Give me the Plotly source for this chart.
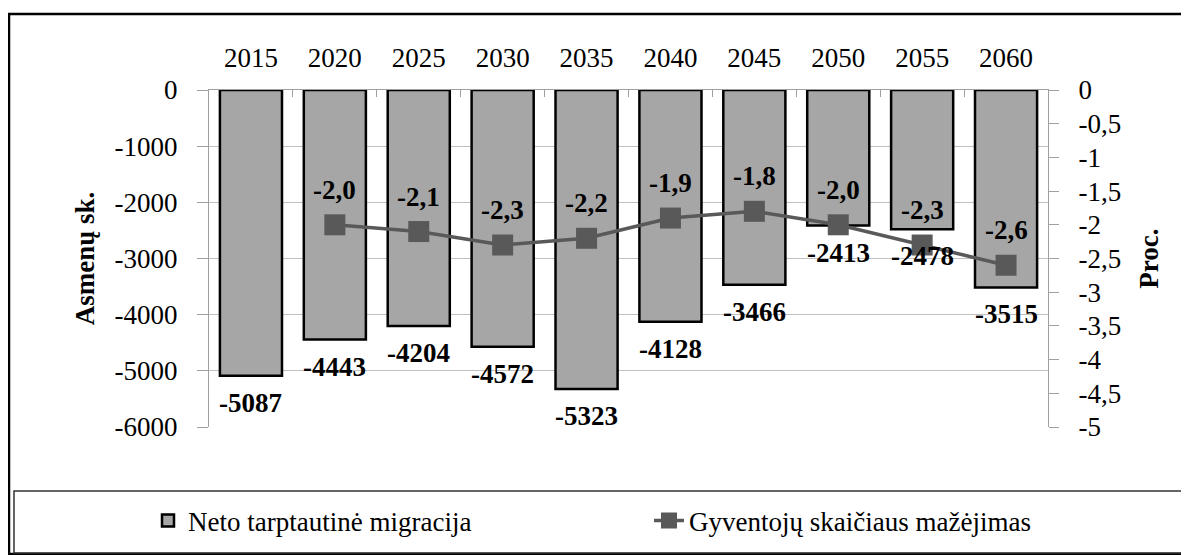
import plotly.graph_objects as go

years = ["2015", "2020", "2025", "2030", "2035", "2040", "2045", "2050", "2055", "2060"]
migration = [-5087, -4443, -4204, -4572, -5323, -4128, -3466, -2413, -2478, -3515]
decline = [None, -2.0, -2.1, -2.3, -2.2, -1.9, -1.8, -2.0, -2.3, -2.6]

left_ticks = [0, -1000, -2000, -3000, -4000, -5000, -6000]
left_tick_text = ["0", "-1000", "-2000", "-3000", "-4000", "-5000", "-6000"]
right_ticks = [0, -0.5, -1, -1.5, -2, -2.5, -3, -3.5, -4, -4.5, -5]
right_tick_text = ["0", "-0,5", "-1", "-1,5", "-2", "-2,5", "-3", "-3,5", "-4", "-4,5", "-5"]

bar_name = "Neto tarptautinė migracija"
line_name = "Gyventojų skaičiaus mažėjimas"
left_title = "Asmenų sk."
right_title = "Proc."

FONT = "'Liberation Serif', 'Times New Roman', Times, serif"
FS = 27
OFF = 8  # page body margin
W, H = 1189 - OFF, 555 - OFF
L, R, T, B = 209 - OFF, 1048 - OFF, 90 - OFF, 427 - OFF

fig = go.Figure()
fig.add_trace(go.Bar(
    x=years, y=migration, name=bar_name, width=0.74,
    marker=dict(color="#a6a6a6", line=dict(color="black", width=2.5)),
    yaxis="y",
))
fig.add_trace(go.Scatter(
    x=years, y=decline, name=line_name, mode="lines+markers", yaxis="y2",
    line=dict(color="#595959", width=3.5),
    marker=dict(symbol="square", size=21, color="#595959"),
))

annotations = []
for i, v in enumerate(migration):
    annotations.append(dict(x=i, y=v, xref="x", yref="y", text="<b>%d</b>" % v,
                            showarrow=False, yshift=-27,
                            font=dict(family=FONT, size=FS, color="black")))
for i, v in enumerate(decline):
    if v is None:
        continue
    annotations.append(dict(x=i, y=v, xref="x", yref="y2",
                            text="<b>%s</b>" % ("%.1f" % v).replace(".", ","),
                            showarrow=False, yshift=35,
                            font=dict(family=FONT, size=FS, color="black")))

def px_x(p):
    return (p - OFF - L) / (R - L)

def px_y(p):
    return (B - (p - OFF)) / (B - T)

shapes = [
    dict(type="rect", xref="paper", yref="paper",
         x0=px_x(9), x1=px_x(1200), y0=px_y(554), y1=px_y(14),
         line=dict(color="black", width=2.5), fillcolor="rgba(0,0,0,0)", layer="below"),
    dict(type="rect", xref="paper", yref="paper",
         x0=px_x(14), x1=px_x(1200), y0=px_y(553), y1=px_y(491),
         line=dict(color="#333333", width=1.5), fillcolor="rgba(0,0,0,0)", layer="below"),
]

axis_line = "#a0a0a0"
fig.update_layout(
    width=W, height=H,
    margin=dict(l=L, r=W - R, t=T, b=H - B, autoexpand=False),
    paper_bgcolor="white", plot_bgcolor="white",
    font=dict(family=FONT, size=FS, color="black"),
    xaxis=dict(side="top", type="category", range=[-0.5, len(years) - 0.5],
               showgrid=False, showline=True,
               linecolor=axis_line, linewidth=1, ticks="inside", tickson="boundaries",
               ticklen=7, tickcolor=axis_line, tickfont=dict(family=FONT, size=FS),
               tickangle=0, ticklabelstandoff=11, fixedrange=True),
    yaxis=dict(range=[-6000, 0], tickvals=left_ticks, ticktext=left_tick_text,
               showgrid=True, gridcolor="#c0c0c0", gridwidth=1, zeroline=False,
               showline=True, linecolor=axis_line, linewidth=1,
               ticks="outside", ticklen=11, tickcolor=axis_line,
               tickfont=dict(family=FONT, size=FS), ticklabelstandoff=14,
               title=dict(text="<b>%s</b>" % left_title, font=dict(family=FONT, size=FS), standoff=12)),
    yaxis2=dict(range=[-5, 0], tickvals=right_ticks, ticktext=right_tick_text,
                overlaying="y", side="right", showgrid=False, zeroline=False,
                showline=True, linecolor=axis_line, linewidth=1,
                ticks="outside", ticklen=10, tickcolor=axis_line,
                tickfont=dict(family=FONT, size=FS), ticklabelstandoff=14,
                title=dict(text="<b>%s</b>" % right_title, font=dict(family=FONT, size=FS), standoff=18)),
    legend=dict(orientation="h", x=px_x(148), xanchor="left", y=px_y(521), yanchor="middle",
                font=dict(family=FONT, size=FS), entrywidth=456, entrywidthmode="pixels",
                bgcolor="rgba(0,0,0,0)", traceorder="normal"),
    annotations=annotations,
    shapes=shapes,
    showlegend=True,
)

fig.write_html("out.html")
